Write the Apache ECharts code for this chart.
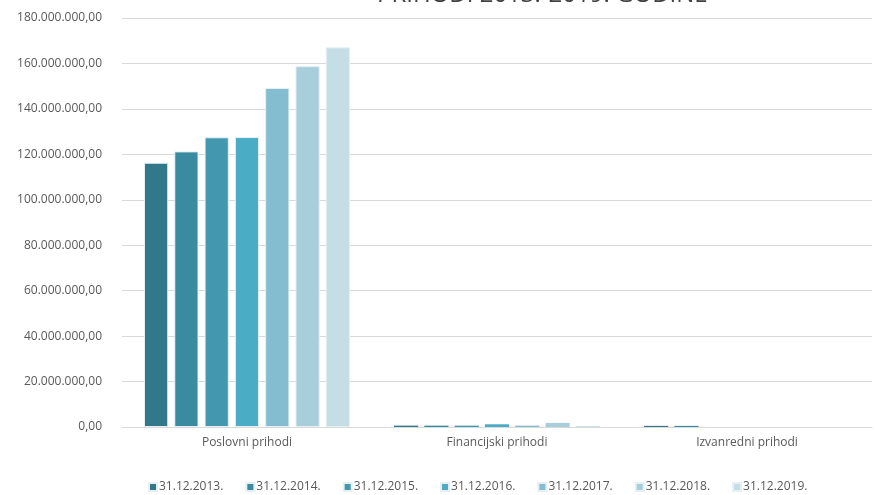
<!DOCTYPE html>
<html>
<head>
<meta charset="utf-8">
<script src="https://cdn.jsdelivr.net/npm/echarts@6/dist/echarts.min.js"></script>
<style>
  html, body { margin: 0; padding: 0; background: #fff; }
  #chart { width: 878px; height: 495px; }
</style>
</head>
<body>
<div id="chart"></div>
<script>
// kategorije i vrijednosti (procjena sa slike)
const categories = ['Poslovni prihodi', 'Financijski prihodi', 'Izvanredni prihodi'];
const periods = ['31.12.2013.', '31.12.2014.', '31.12.2015.', '31.12.2016.', '31.12.2017.', '31.12.2018.', '31.12.2019.'];
const v2013 = [116300000, 600000, 500000];
const v2014 = [121300000, 600000, 500000];
const v2015 = [127500000, 600000, 0];
const v2016 = [127600000, 1200000, 0];
const v2017 = [149200000, 600000, 0];
const v2018 = [158800000, 1800000, 0];
const v2019 = [167100000, 400000, 0];
const colors = ['#31788A', '#3A8BA0', '#4398B0', '#4BACC6', '#84BDD0', '#A8CEDC', '#C5DEE6'];

const allValues = [v2013, v2014, v2015, v2016, v2017, v2018, v2019];

// 180000000 -> "180.000.000,00"
const fmt = (v) => {
  const s = Math.round(v).toString().replace(/\B(?=(\d{3})+(?!\d))/g, '.');
  return s + ',00';
};

const chart = echarts.init(document.getElementById('chart'));
const font = "'Open Sans', 'DejaVu Sans', sans-serif";

const option = {
  animation: false,
  color: colors,
  title: {
    text: 'PRIHODI 2013.-2019. GODINE',
    left: 372,
    top: -22,
    textStyle: { color: '#404040', fontSize: 24, fontWeight: 'normal', fontFamily: font }
  },
  legend: {
    top: 481,
    left: 148,
    padding: 0,
    itemWidth: 8,
    itemHeight: 8,
    itemGap: 22,
    icon: 'rect',
    textStyle: { color: '#595959', fontSize: 12, fontFamily: font, padding: [0, 0, 0, -3] },
    data: periods
  },
  grid: { left: 122, right: 6, top: 18, bottom: 68 },
  xAxis: {
    type: 'category',
    data: categories,
    axisLine: { lineStyle: { color: '#d9d9d9', width: 1 } },
    axisTick: { show: false },
    axisLabel: { color: '#595959', fontSize: 12, fontFamily: font, margin: 10 }
  },
  yAxis: {
    type: 'value',
    min: 0,
    max: 180000000,
    interval: 20000000,
    axisLine: { show: false },
    axisTick: { show: false },
    splitLine: { lineStyle: { color: '#d9d9d9', width: 1 } },
    axisLabel: { color: '#595959', fontSize: 12, fontFamily: font, margin: 20, formatter: fmt }
  },
  series: periods.map((name, i) => ({
    name: name,
    type: 'bar',
    // tanki stupci bez obruba da se vidi boja
    data: allValues[i].map((v) => (v < 5000000 ? { value: v, itemStyle: { borderWidth: 0 } } : v)),
    barGap: '25%',
    barCategoryGap: '17.6%',
    itemStyle: { color: colors[i], borderColor: '#e6f0f3', borderWidth: 1 }
  }))
};

chart.setOption(option);
</script>
</body>
</html>
